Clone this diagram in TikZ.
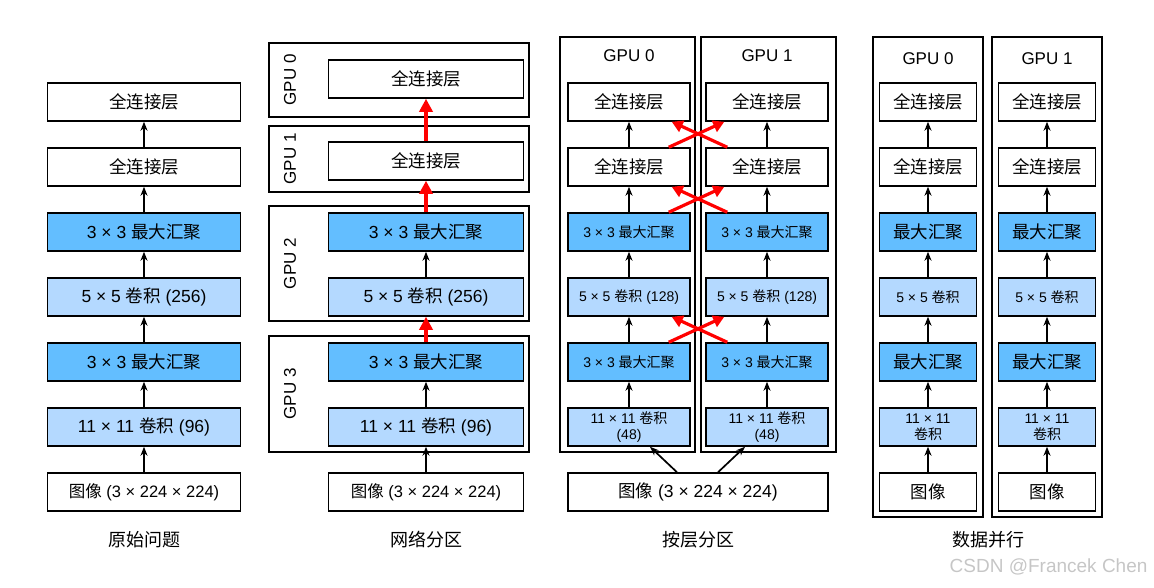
\documentclass[tikz,border=0pt]{standalone}
\usepackage{fontspec}
\setmainfont{Liberation Sans}
\newfontfamily\cjk{Noto Sans CJK SC}
\usetikzlibrary{arrows.meta}
\usetikzlibrary{positioning}

\definecolor{poolblue}{RGB}{99,190,255}
\definecolor{convblue}{RGB}{180,217,255}

\tikzset{
    netbox/.style={
        rectangle, draw=black, line width=1.5pt,
        minimum height=38pt, inner sep=1pt, align=center,
        font=\fontsize{17.5}{19}\selectfont,
    },
    fc/.style={netbox, fill=white},
    pool/.style={netbox, fill=poolblue},
    conv/.style={netbox, fill=convblue},
    small/.style={font=\fontsize{14}{16}\selectfont},
    gpubox/.style={rectangle, draw=black, line width=1.5pt, inner sep=0pt},
    gpulabel/.style={font=\fontsize{17}{19}\selectfont},
    title/.style={font=\fontsize{18}{20}\selectfont\cjk},
    flow/.style={-{Stealth[length=9pt,width=7pt]}, line width=1.7pt},
    redflow/.style={-{Triangle[length=13pt,width=13pt]}, red, line width=4pt},
    redcross/.style={-{Triangle[length=11pt,width=12pt]}, red, line width=3.2pt},
}

\begin{document}
\begin{tikzpicture}[x=1pt, y=-1pt]
        \useasboundingbox (0,0) rectangle (1154,587);

        \node (a7) at(144,492) [fc, minimum width=193pt, font=\fontsize{16.5}{18}\selectfont] {{\cjk 图像} (3 × 224 × 224)};
        \node (a6) at(144,427) [conv, minimum width=193pt] {11 × 11 {\cjk 卷积} (96)};
        \node (a5) at(144,362) [pool, minimum width=193pt] {3 × 3 {\cjk 最大汇聚}};
        \node (a4) at(144,297) [conv, minimum width=193pt] {5 × 5 {\cjk 卷积} (256)};
        \node (a3) at(144,232) [pool, minimum width=193pt] {3 × 3 {\cjk 最大汇聚}};
        \node (a2) at(144,167) [fc, minimum width=193pt] {{\cjk 全连接层}};
        \node (a1) at(144,102) [fc, minimum width=193pt] {{\cjk 全连接层}};
        \draw[flow] (a7) -- (a6);
        \draw[flow] (a6) -- (a5);
        \draw[flow] (a5) -- (a4);
        \draw[flow] (a4) -- (a3);
        \draw[flow] (a3) -- (a2);
        \draw[flow] (a2) -- (a1);
        \node (t1) at(144,540) [title] {原始问题};

        \node (g0) at(399,80) [gpubox, minimum width=260pt, minimum height=74pt] {};
        \node (g1) at(399,159) [gpubox, minimum width=260pt, minimum height=66pt] {};
        \node (g2) at(399,263.5) [gpubox, minimum width=260pt, minimum height=115pt] {};
        \node (g3) at(399,394) [gpubox, minimum width=260pt, minimum height=116pt] {};
        \node (g0l) at(290,80) [gpulabel, rotate=90] {GPU 0};
        \node (g1l) at(290,159) [gpulabel, rotate=90] {GPU 1};
        \node (g2l) at(290,263.5) [gpulabel, rotate=90] {GPU 2};
        \node (g3l) at(290,394) [gpulabel, rotate=90] {GPU 3};
        \node (b7) at(426,492) [fc, minimum width=195pt, font=\fontsize{16.5}{18}\selectfont] {{\cjk 图像} (3 × 224 × 224)};
        \node (b6) at(426,427) [conv, minimum width=195pt] {11 × 11 {\cjk 卷积} (96)};
        \node (b5) at(426,362) [pool, minimum width=195pt] {3 × 3 {\cjk 最大汇聚}};
        \node (b4) at(426,297) [conv, minimum width=195pt] {5 × 5 {\cjk 卷积} (256)};
        \node (b3) at(426,232) [pool, minimum width=195pt] {3 × 3 {\cjk 最大汇聚}};
        \node (b2) at(426,161) [fc, minimum width=195pt] {{\cjk 全连接层}};
        \node (b1) at(426,79) [fc, minimum width=195pt] {{\cjk 全连接层}};
        \draw[flow] (b7) -- (b6);
        \draw[flow] (b6) -- (b5);
        \draw[redflow] (b5) -- (b4);
        \draw[flow] (b4) -- (b3);
        \draw[redflow] (b3) -- (b2);
        \draw[redflow] (b2) -- (b1);
        \node (t2) at(426,540) [title] {网络分区};

        \node (h0) at(627.5,244.5) [gpubox, minimum width=135pt, minimum height=415pt] {};
        \node (h1) at(768.5,244.5) [gpubox, minimum width=135pt, minimum height=415pt] {};
        \node (h0l) at(629,56) [gpulabel] {GPU 0};
        \node (h1l) at(767,56) [gpulabel] {GPU 1};
        \node (c7) at(698,492) [fc, minimum width=260pt] {{\cjk 图像} (3 × 224 × 224)};
        \node (l6) at(629,427) [conv, small, minimum width=122pt] {11 × 11 {\cjk 卷积}\\(48)};
        \node (l5) at(629,362) [pool, small, minimum width=122pt] {3 × 3 {\cjk 最大汇聚}};
        \node (l4) at(629,297) [conv, small, minimum width=122pt] {5 × 5 {\cjk 卷积} (128)};
        \node (l3) at(629,232) [pool, small, minimum width=122pt] {3 × 3 {\cjk 最大汇聚}};
        \node (l2) at(629,167) [fc, minimum width=122pt] {{\cjk 全连接层}};
        \node (l1) at(629,102) [fc, minimum width=122pt] {{\cjk 全连接层}};
        \node (r6) at(767,427) [conv, small, minimum width=122pt] {11 × 11 {\cjk 卷积}\\(48)};
        \node (r5) at(767,362) [pool, small, minimum width=122pt] {3 × 3 {\cjk 最大汇聚}};
        \node (r4) at(767,297) [conv, small, minimum width=122pt] {5 × 5 {\cjk 卷积} (128)};
        \node (r3) at(767,232) [pool, small, minimum width=122pt] {3 × 3 {\cjk 最大汇聚}};
        \node (r2) at(767,167) [fc, minimum width=122pt] {{\cjk 全连接层}};
        \node (r1) at(767,102) [fc, minimum width=122pt] {{\cjk 全连接层}};
        \draw[flow] ([xshift=-21pt]c7.north) -- ([xshift=21pt]l6.south);
        \draw[flow] ([xshift=20pt]c7.north) -- ([xshift=-22pt]r6.south);
        \draw[flow] (l6) -- (l5);
        \draw[flow] (l5) -- (l4);
        \draw[flow] (l4) -- (l3);
        \draw[flow] (l3) -- (l2);
        \draw[flow] (l2) -- (l1);
        \draw[flow] (r6) -- (r5);
        \draw[flow] (r5) -- (r4);
        \draw[flow] (r4) -- (r3);
        \draw[flow] (r3) -- (r2);
        \draw[flow] (r2) -- (r1);
        \draw[redcross] ([xshift=-22pt]l2.north east) -- ([xshift=19pt]r1.south west);
        \draw[redcross] ([xshift=22pt]r2.north west) -- ([xshift=-19pt]l1.south east);
        \draw[redcross] ([xshift=-22pt]l3.north east) -- ([xshift=19pt]r2.south west);
        \draw[redcross] ([xshift=22pt]r3.north west) -- ([xshift=-19pt]l2.south east);
        \draw[redcross] ([xshift=-22pt]l5.north east) -- ([xshift=19pt]r4.south west);
        \draw[redcross] ([xshift=22pt]r5.north west) -- ([xshift=-19pt]l4.south east);
        \node (t3) at(698,540) [title] {按层分区};

        \node (k0) at(928,277) [gpubox, minimum width=110pt, minimum height=480pt] {};
        \node (k1) at(1047,277) [gpubox, minimum width=110pt, minimum height=480pt] {};
        \node (k0l) at(928,59) [gpulabel] {GPU 0};
        \node (k1l) at(1047,59) [gpulabel] {GPU 1};
        \node (m7) at(928,492) [fc, minimum width=97pt] {{\cjk 图像}};
        \node (m6) at(928,427) [conv, small, minimum width=97pt] {11 × 11\\{\cjk 卷积}};
        \node (m5) at(928,362) [pool, minimum width=97pt] {{\cjk 最大汇聚}};
        \node (m4) at(928,297) [conv, small, minimum width=97pt] {5 × 5 {\cjk 卷积}};
        \node (m3) at(928,232) [pool, minimum width=97pt] {{\cjk 最大汇聚}};
        \node (m2) at(928,167) [fc, minimum width=97pt] {{\cjk 全连接层}};
        \node (m1) at(928,102) [fc, minimum width=97pt] {{\cjk 全连接层}};
        \node (n7) at(1047,492) [fc, minimum width=97pt] {{\cjk 图像}};
        \node (n6) at(1047,427) [conv, small, minimum width=97pt] {11 × 11\\{\cjk 卷积}};
        \node (n5) at(1047,362) [pool, minimum width=97pt] {{\cjk 最大汇聚}};
        \node (n4) at(1047,297) [conv, small, minimum width=97pt] {5 × 5 {\cjk 卷积}};
        \node (n3) at(1047,232) [pool, minimum width=97pt] {{\cjk 最大汇聚}};
        \node (n2) at(1047,167) [fc, minimum width=97pt] {{\cjk 全连接层}};
        \node (n1) at(1047,102) [fc, minimum width=97pt] {{\cjk 全连接层}};
        \draw[flow] (m7) -- (m6);
        \draw[flow] (m6) -- (m5);
        \draw[flow] (m5) -- (m4);
        \draw[flow] (m4) -- (m3);
        \draw[flow] (m3) -- (m2);
        \draw[flow] (m2) -- (m1);
        \draw[flow] (n7) -- (n6);
        \draw[flow] (n6) -- (n5);
        \draw[flow] (n5) -- (n4);
        \draw[flow] (n4) -- (n3);
        \draw[flow] (n3) -- (n2);
        \draw[flow] (n2) -- (n1);
        \node (t4) at(988,540) [title] {数据并行};

        \node (wm) at(1151,567) [anchor=east, text=gray!45, font=\fontsize{19}{21}\selectfont] {CSDN @Francek Chen};
    \end{tikzpicture}
\end{document}
